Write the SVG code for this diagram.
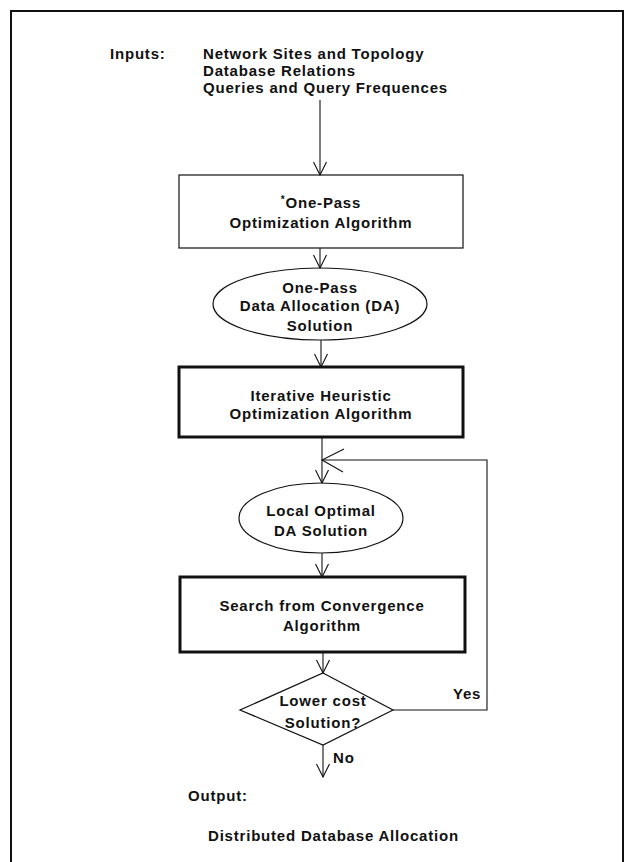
<svg xmlns="http://www.w3.org/2000/svg" width="627" height="862" viewBox="0 0 627 862">
<style>
text{font-family:"Liberation Sans",Arial,sans-serif;font-size:15px;font-weight:bold;fill:#111;letter-spacing:0.8px}
.c{text-anchor:middle}
.thin{fill:none;stroke:#111;stroke-width:1.2}
.thick{fill:none;stroke:#111;stroke-width:3}
.ln{fill:none;stroke:#111;stroke-width:1.1}
</style>
<defs>
<marker id="ah" viewBox="-14 -8 16 16" markerWidth="16" markerHeight="16" refX="0" refY="0" orient="auto" markerUnits="userSpaceOnUse">
<path d="M-13,-6.5 L0,0 L-13,6.5" fill="none" stroke="#111" stroke-width="1.1"/>
</marker>
<marker id="ahL" viewBox="-24 -14 26 28" markerWidth="26" markerHeight="28" refX="0" refY="0" orient="auto" markerUnits="userSpaceOnUse">
<path d="M-21,-12 L0,0 L-22,11" fill="none" stroke="#111" stroke-width="1.1"/>
</marker>
</defs>
<rect width="627" height="862" fill="#fff"/>
<g id="frame">
<path d="M11,862 L11,11 L623,11 L623,862" fill="none" stroke="#111" stroke-width="2"/>
</g>
<g id="inputs">
<text x="110" y="59">Inputs:</text>
<text x="203" y="59">Network Sites and Topology</text>
<text x="203" y="76">Database Relations</text>
<text x="203" y="93">Queries and Query Frequences</text>
</g>
<g id="onepass-algo">
<rect class="thin" x="179" y="175" width="284" height="73"/>
<text class="c" x="321" y="207.5"><tspan font-size="10" dy="-5">*</tspan><tspan dy="5">One-Pass</tspan></text>
<text class="c" x="321" y="227.5">Optimization Algorithm</text>
</g>
<g id="onepass-solution">
<ellipse class="thin" cx="320" cy="304" rx="107" ry="36"/>
<text class="c" x="320" y="292.5">One-Pass</text>
<text class="c" x="320" y="310.5">Data Allocation (DA)</text>
<text class="c" x="320" y="330.5">Solution</text>
</g>
<g id="iterative">
<rect class="thick" x="179" y="367" width="284" height="70"/>
<text class="c" x="321" y="400.5">Iterative Heuristic</text>
<text class="c" x="321" y="418.5">Optimization Algorithm</text>
</g>
<g id="local-optimal">
<ellipse class="thin" cx="321" cy="518" rx="82" ry="35"/>
<text class="c" x="321" y="515.5">Local Optimal</text>
<text class="c" x="321" y="535.5">DA Solution</text>
</g>
<g id="search">
<rect class="thick" x="180" y="577" width="285" height="75"/>
<text class="c" x="322" y="610.5">Search from Convergence</text>
<text class="c" x="322" y="630.5">Algorithm</text>
</g>
<g id="decision">
<polygon class="thin" points="323,673 393,710 323,745 240,710"/>
<text class="c" x="323" y="705.5">Lower cost</text>
<text class="c" x="323" y="727.5">Solution?</text>
</g>
<g id="output">
<text x="188" y="800.5">Output:</text>
<text x="208" y="840.5">Distributed Database Allocation</text>
</g>
<g id="connectors">
<line class="ln" x1="320" y1="100" x2="320" y2="175" marker-end="url(#ah)"/>
<line class="ln" x1="320" y1="248" x2="320" y2="268" marker-end="url(#ah)"/>
<line class="ln" x1="321" y1="340" x2="321" y2="367" marker-end="url(#ah)"/>
<line class="ln" x1="322" y1="437" x2="322" y2="483" marker-end="url(#ah)"/>
<path class="ln" d="M393,710 L487,710 L487,460 L322,460" marker-end="url(#ahL)"/>
<line class="ln" x1="322" y1="553" x2="322" y2="577" marker-end="url(#ah)"/>
<line class="ln" x1="323" y1="652" x2="323" y2="673" marker-end="url(#ah)"/>
<line class="ln" x1="323" y1="745" x2="323" y2="777" marker-end="url(#ah)"/>
<text x="453" y="698.5">Yes</text>
<text x="333" y="762.5">No</text>
</g>
</svg>
